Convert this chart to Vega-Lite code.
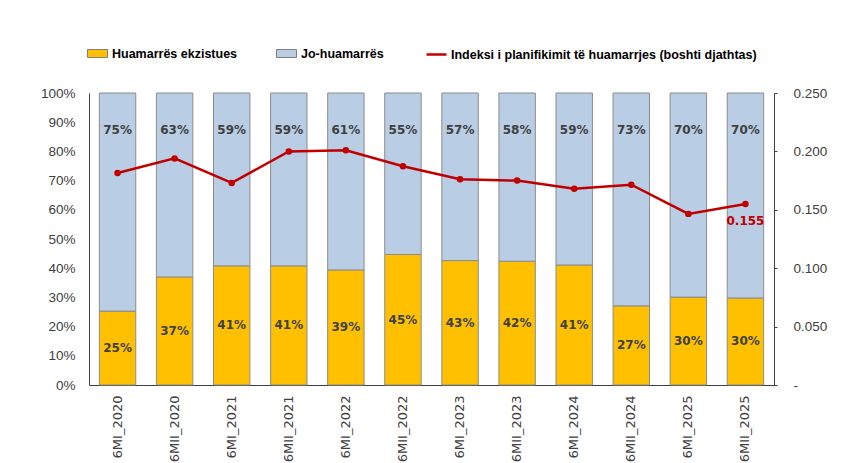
{
  "$schema": "https://vega.github.io/schema/vega-lite/v6.json",
  "width": 685,
  "height": 292,
  "autosize": {"type": "none"},
  "padding": {"left": 89, "top": 93, "right": 79, "bottom": 78},
  "background": "white",
  "config": {
    "view": {"stroke": null},
    "font": "Liberation Sans",
    "axisY": {"labelOverlap": false}
  },
  "datasets": {
    "shares": [
      {"period": "6MI_2020", "group": "Huamarrës ekzistues", "share": 0.253},
      {"period": "6MI_2020", "group": "Jo-huamarrës", "share": 0.747},
      {"period": "6MII_2020", "group": "Huamarrës ekzistues", "share": 0.370},
      {"period": "6MII_2020", "group": "Jo-huamarrës", "share": 0.630},
      {"period": "6MI_2021", "group": "Huamarrës ekzistues", "share": 0.408},
      {"period": "6MI_2021", "group": "Jo-huamarrës", "share": 0.592},
      {"period": "6MII_2021", "group": "Huamarrës ekzistues", "share": 0.408},
      {"period": "6MII_2021", "group": "Jo-huamarrës", "share": 0.592},
      {"period": "6MI_2022", "group": "Huamarrës ekzistues", "share": 0.394},
      {"period": "6MI_2022", "group": "Jo-huamarrës", "share": 0.606},
      {"period": "6MII_2022", "group": "Huamarrës ekzistues", "share": 0.447},
      {"period": "6MII_2022", "group": "Jo-huamarrës", "share": 0.553},
      {"period": "6MI_2023", "group": "Huamarrës ekzistues", "share": 0.426},
      {"period": "6MI_2023", "group": "Jo-huamarrës", "share": 0.574},
      {"period": "6MII_2023", "group": "Huamarrës ekzistues", "share": 0.424},
      {"period": "6MII_2023", "group": "Jo-huamarrës", "share": 0.576},
      {"period": "6MI_2024", "group": "Huamarrës ekzistues", "share": 0.411},
      {"period": "6MI_2024", "group": "Jo-huamarrës", "share": 0.589},
      {"period": "6MII_2024", "group": "Huamarrës ekzistues", "share": 0.271},
      {"period": "6MII_2024", "group": "Jo-huamarrës", "share": 0.729},
      {"period": "6MI_2025", "group": "Huamarrës ekzistues", "share": 0.301},
      {"period": "6MI_2025", "group": "Jo-huamarrës", "share": 0.699},
      {"period": "6MII_2025", "group": "Huamarrës ekzistues", "share": 0.298},
      {"period": "6MII_2025", "group": "Jo-huamarrës", "share": 0.702}
    ],
    "index": [
      {"period": "6MI_2020", "series": "Indeksi i planifikimit të huamarrjes (boshti djathtas)", "index": 0.1815},
      {"period": "6MII_2020", "series": "Indeksi i planifikimit të huamarrjes (boshti djathtas)", "index": 0.194},
      {"period": "6MI_2021", "series": "Indeksi i planifikimit të huamarrjes (boshti djathtas)", "index": 0.173},
      {"period": "6MII_2021", "series": "Indeksi i planifikimit të huamarrjes (boshti djathtas)", "index": 0.2},
      {"period": "6MI_2022", "series": "Indeksi i planifikimit të huamarrjes (boshti djathtas)", "index": 0.201},
      {"period": "6MII_2022", "series": "Indeksi i planifikimit të huamarrjes (boshti djathtas)", "index": 0.1873},
      {"period": "6MI_2023", "series": "Indeksi i planifikimit të huamarrjes (boshti djathtas)", "index": 0.1762},
      {"period": "6MII_2023", "series": "Indeksi i planifikimit të huamarrjes (boshti djathtas)", "index": 0.175},
      {"period": "6MI_2024", "series": "Indeksi i planifikimit të huamarrjes (boshti djathtas)", "index": 0.168},
      {"period": "6MII_2024", "series": "Indeksi i planifikimit të huamarrjes (boshti djathtas)", "index": 0.1715},
      {"period": "6MI_2025", "series": "Indeksi i planifikimit të huamarrjes (boshti djathtas)", "index": 0.1465},
      {"period": "6MII_2025", "series": "Indeksi i planifikimit të huamarrjes (boshti djathtas)", "index": 0.155}
    ]
  },
  "encoding": {
    "x": {
      "field": "period",
      "type": "nominal",
      "sort": null,
      "scale": {
        "domain": ["6MI_2020", "6MII_2020", "6MI_2021", "6MII_2021", "6MI_2022", "6MII_2022", "6MI_2023", "6MII_2023", "6MI_2024", "6MII_2024", "6MI_2025", "6MII_2025"],
        "paddingInner": 0.362,
        "paddingOuter": 0.181
      },
      "axis": {
        "title": null,
        "labelAngle": 270,
        "labelFont": "DejaVu Sans",
        "labelFontSize": 13,
        "labelColor": "#404040",
        "tickSize": 0,
        "labelPadding": 10,
        "domainColor": "#404040",
        "grid": false
      }
    }
  },
  "layer": [
    {
      "data": {"name": "shares"},
      "encoding": {
        "y": {
          "field": "share",
          "type": "quantitative",
          "scale": {"domain": [0, 1], "nice": false},
          "axis": {
            "title": null,
            "format": ".0%",
            "values": [0, 0.1, 0.2, 0.3, 0.4, 0.5, 0.6, 0.7, 0.8, 0.9, 1],
            "labelOverlap": false,
            "tickSize": 0,
            "labelPadding": 14,
            "grid": false,
            "domainColor": "#404040",
            "labelFont": "Liberation Sans",
            "labelFontSize": 13.5,
            "labelColor": "#404040"
          }
        }
      },
      "layer": [
        {
          "mark": {"type": "bar", "stroke": "#8c8c8c", "strokeWidth": 1},
          "encoding": {
            "y": {
              "field": "share",
              "type": "quantitative",
              "stack": "zero",
              "scale": {"domain": [0, 1], "nice": false},
              "axis": {
                "title": null,
                "format": ".0%",
                "values": [0, 0.1, 0.2, 0.3, 0.4, 0.5, 0.6, 0.7, 0.8, 0.9, 1],
                "labelOverlap": false,
                "tickSize": 0,
                "labelPadding": 14,
                "grid": false,
                "domainColor": "#404040",
                "labelFont": "Liberation Sans",
                "labelFontSize": 13.5,
                "labelColor": "#404040"
              }
            },
            "color": {
              "field": "group",
              "type": "nominal",
              "scale": {"domain": ["Huamarrës ekzistues", "Jo-huamarrës"], "range": ["#FFC000", "#B9CDE5"]},
              "legend": {
                "title": null,
                "orient": "none",
                "legendX": -2,
                "legendY": -50,
                "direction": "horizontal",
                "symbolType": "M-1,-0.4H1V0.4H-1Z",
                "symbolSize": 400,
                "symbolStrokeColor": "#7f7f7f",
                "symbolStrokeWidth": 1,
                "labelFont": "Liberation Sans",
                "labelFontWeight": "bold",
                "labelFontSize": 12.5,
                "labelColor": "#000000",
                "labelOffset": 4,
                "columnPadding": 36
              }
            },
            "order": {"field": "group", "sort": "ascending"}
          }
        },
        {
          "transform": [{"filter": "datum.group == 'Huamarrës ekzistues'"}],
          "mark": {"type": "text", "font": "DejaVu Sans", "fontWeight": "bold", "fontSize": 12, "color": "#404040"},
          "encoding": {
            "y": {
              "field": "share",
              "type": "quantitative",
              "stack": "zero",
              "bandPosition": 0.5,
              "axis": {
                "title": null,
                "format": ".0%",
                "values": [0, 0.1, 0.2, 0.3, 0.4, 0.5, 0.6, 0.7, 0.8, 0.9, 1],
                "labelOverlap": false,
                "tickSize": 0,
                "labelPadding": 14,
                "grid": false,
                "domainColor": "#404040",
                "labelFont": "Liberation Sans",
                "labelFontSize": 13.5,
                "labelColor": "#404040"
              }
            },
            "detail": {"field": "group"},
            "text": {"field": "share", "type": "quantitative", "format": ".0%"}
          }
        },
        {
          "transform": [{"filter": "datum.group == 'Jo-huamarrës'"}],
          "mark": {"type": "text", "font": "DejaVu Sans", "fontWeight": "bold", "fontSize": 12, "color": "#404040"},
          "encoding": {
            "y": {
              "datum": 0.875,
              "type": "quantitative",
              "axis": {
                "title": null,
                "format": ".0%",
                "values": [0, 0.1, 0.2, 0.3, 0.4, 0.5, 0.6, 0.7, 0.8, 0.9, 1],
                "labelOverlap": false,
                "tickSize": 0,
                "labelPadding": 14,
                "grid": false,
                "domainColor": "#404040",
                "labelFont": "Liberation Sans",
                "labelFontSize": 13.5,
                "labelColor": "#404040"
              }
            },
            "text": {"field": "share", "type": "quantitative", "format": ".0%"}
          }
        }
      ]
    },
    {
      "data": {"name": "index"},
      "layer": [
        {
          "mark": {"type": "line", "strokeWidth": 2.5, "point": {"filled": true, "size": 20, "fill": "#C00000"}},
          "encoding": {
            "y": {
              "field": "index",
              "type": "quantitative",
              "scale": {"domain": [0, 0.25], "nice": false},
              "axis": {
                "title": null,
                "orient": "right",
                "values": [0, 0.05, 0.1, 0.15, 0.2, 0.25],
                "labelExpr": "datum.value == 0 ? '-' : format(datum.value, '.3f')",
                "labelOverlap": false,
                "tickSize": 3,
                "labelPadding": 16,
                "grid": false,
                "domainColor": "#404040",
                "tickColor": "#404040",
                "labelFont": "Liberation Sans",
                "labelFontSize": 13.5,
                "labelColor": "#404040"
              }
            },
            "stroke": {
              "field": "series",
              "type": "nominal",
              "scale": {"range": ["#C00000"]},
              "legend": {
                "title": null,
                "orient": "none",
                "legendX": 336,
                "legendY": -50,
                "symbolType": "stroke",
                "symbolSize": 400,
                "symbolStrokeWidth": 2.5,
                "labelFont": "Liberation Sans",
                "labelFontWeight": "bold",
                "labelFontSize": 12.5,
                "labelColor": "#000000",
                "labelOffset": 3,
                "labelLimit": 400
              }
            }
          }
        },
        {
          "transform": [{"filter": "datum.period == '6MII_2025'"}],
          "mark": {"type": "text", "font": "DejaVu Sans", "fontWeight": "bold", "fontSize": 12, "color": "#C00000", "dy": 17},
          "encoding": {
            "y": {
              "field": "index",
              "type": "quantitative",
              "axis": {
                "title": null,
                "orient": "right",
                "values": [0, 0.05, 0.1, 0.15, 0.2, 0.25],
                "labelExpr": "datum.value == 0 ? '-' : format(datum.value, '.3f')",
                "labelOverlap": false,
                "tickSize": 3,
                "labelPadding": 16,
                "grid": false,
                "domainColor": "#404040",
                "tickColor": "#404040",
                "labelFont": "Liberation Sans",
                "labelFontSize": 13.5,
                "labelColor": "#404040"
              }
            },
            "text": {"field": "index", "type": "quantitative", "format": ".3f"}
          }
        }
      ]
    }
  ],
  "resolve": {"scale": {"y": "independent"}}
}
